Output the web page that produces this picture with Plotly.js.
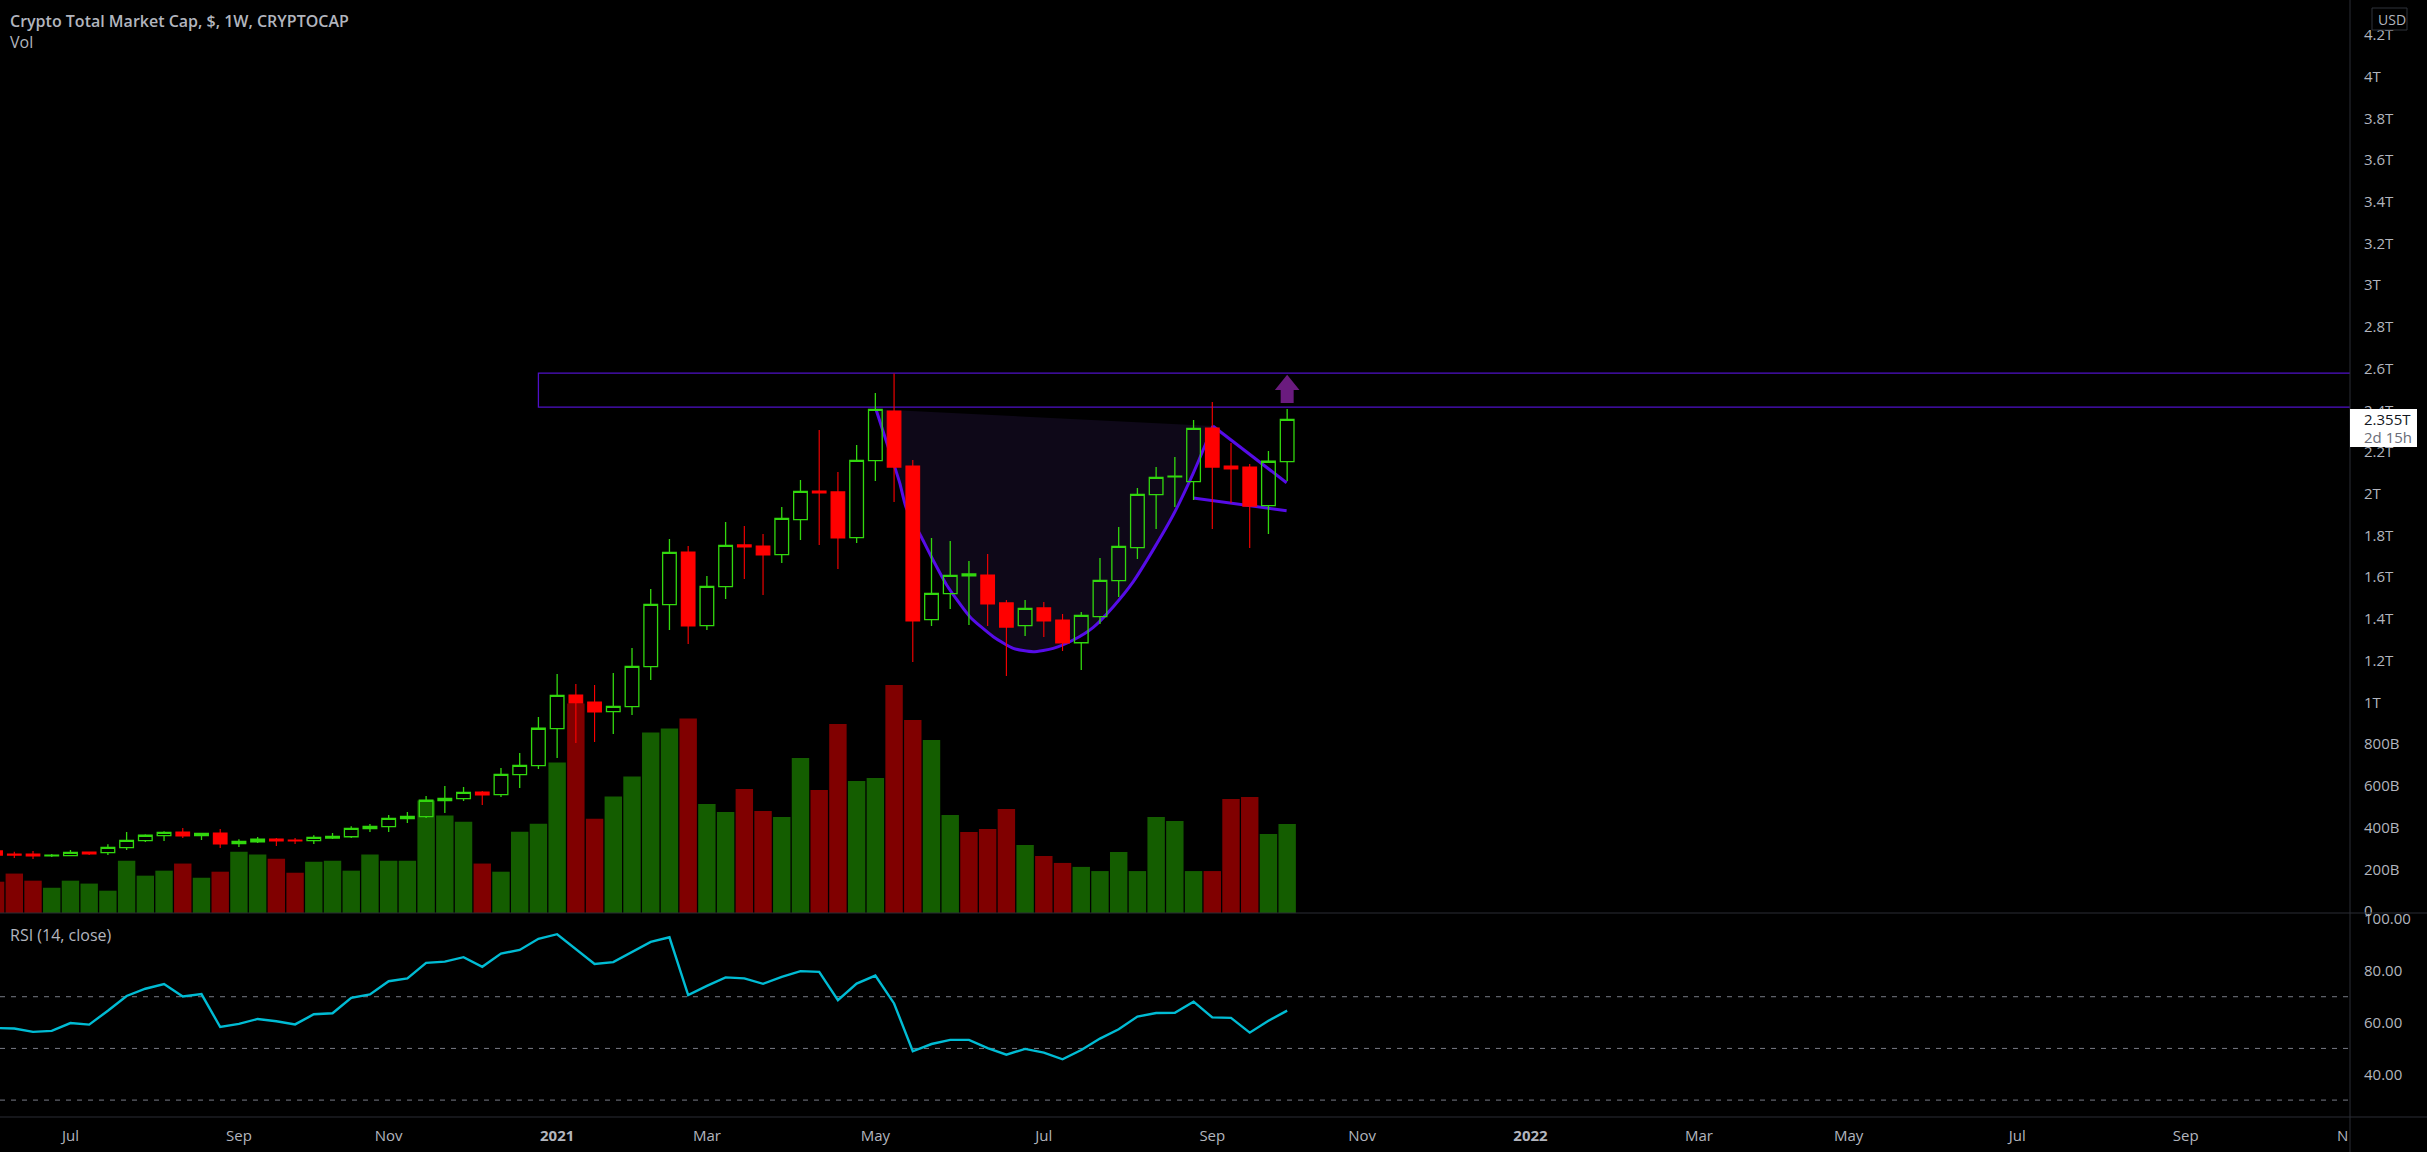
<!DOCTYPE html>
<html>
<head>
<meta charset="utf-8">
<script src="https://cdn.plot.ly/plotly-3.0.1.min.js"></script>
<style>html,body{margin:0;padding:0;background:#000;overflow:hidden}#chart{width:2427px;height:1152px}</style>
</head>
<body>
<div id="chart"></div>
<script>
// Week numbers count from the Monday 2020-06-15; the first bar is week -1.
const FIRST_MONDAY = Date.UTC(2020, 5, 15);
const firstWeek = -1;

// Prices in trillions of USD
const open = [.288,.273,.273,.264,.265,.283,.280,.304,.337,.361,.379,.361,.374,.323,.332,.345,.340,.337,.350,.356,.395,.404,.443,.452,.529,.539,.570,.558,.654,.697,.874,1.035,1.002,.956,.980,1.171,1.469,1.721,1.368,1.555,1.755,1.750,1.708,1.876,2.013,2.009,1.790,2.159,2.397,2.133,1.397,1.521,1.606,1.611,1.477,1.368,1.453,1.395,1.286,1.411,1.584,1.742,1.996,2.081,2.058,2.315,2.133,2.128,1.943,2.154];
const high = [.290,.284,.288,.273,.292,.284,.320,.379,.368,.382,.398,.374,.393,.344,.355,.350,.350,.363,.374,.406,.417,.460,.475,.551,.599,.594,.575,.686,.757,.930,1.136,1.088,1.083,1.141,1.261,1.544,1.783,1.750,1.606,1.865,1.846,1.807,1.937,2.066,2.306,2.104,2.234,2.483,2.577,2.162,1.788,1.774,1.678,1.711,1.491,1.491,1.481,1.424,1.433,1.692,1.841,2.028,2.128,2.176,2.354,2.440,2.244,2.143,2.205,2.406];
const low = [.265,.254,.249,.259,.264,.268,.268,.292,.331,.336,.350,.340,.302,.307,.326,.312,.321,.321,.345,.350,.379,.379,.422,.446,.470,.527,.508,.547,.590,.681,.733,.805,.810,.849,.940,1.107,1.347,1.280,1.347,1.496,1.592,1.515,1.668,1.779,1.755,1.639,1.764,2.061,1.961,1.194,1.366,1.448,1.371,1.366,1.127,1.318,1.314,1.246,1.155,1.376,1.505,1.687,1.831,1.937,1.970,1.831,1.956,1.740,1.807,2.061];
const close = [.268,.268,.264,.268,.281,.273,.305,.339,.363,.377,.360,.372,.321,.334,.344,.336,.336,.353,.358,.396,.406,.444,.454,.531,.540,.569,.556,.655,.698,.876,1.034,.997,.954,.981,1.173,1.470,1.719,1.366,1.556,1.753,1.745,1.707,1.882,2.012,2.004,1.788,2.160,2.405,2.128,1.390,1.523,1.609,1.616,1.472,1.361,1.451,1.390,1.285,1.417,1.585,1.748,1.997,2.079,2.084,2.314,2.128,2.119,1.941,2.156,2.357];

// Volume in billions, and whether each volume bar is drawn green (1) or red (0)
const volume = [150,189,155,121,155,141,107,251,179,203,237,169,198,294,280,260,193,246,251,203,280,251,251,539,467,438,237,198,390,428,721,1004,452,558,654,865,884,932,523,484,594,489,460,743,590,906,633,647,1093,925,829,470,388,403,499,326,273,240,221,201,292,201,460,441,201,201,547,556,379,427];
const volumeUp = [0,0,0,1,1,1,1,1,1,1,0,1,0,1,1,0,0,1,1,1,1,1,1,1,1,1,0,1,1,1,1,0,0,1,1,1,1,0,1,1,0,0,1,1,0,0,1,1,0,0,1,1,0,0,0,1,0,0,1,1,1,1,1,1,1,0,0,0,1,1];

// RSI (14, close)
const rsi = [57.9,57.7,56.4,56.8,59.8,59.2,64.6,70.3,73.1,74.9,70.1,71.0,58.3,59.5,61.4,60.5,59.3,63.2,63.6,69.6,70.9,76.0,77.1,83.1,83.6,85.3,81.6,86.7,88.1,92.4,94.2,88.5,82.7,83.4,87.4,91.2,93.0,70.6,74.2,77.5,77.1,75.0,77.7,79.9,79.6,68.7,75.1,78.2,67.4,48.9,51.7,53.3,53.3,50.1,47.6,49.8,48.4,45.8,49.4,53.8,57.4,62.3,63.7,63.8,68.1,62.0,61.8,56.1,60.7,64.6];

// Cup curve and flag drawn on the chart (week number, price in trillions)
const cupWeeks = [46.03,47.03,47.31,47.63,48.45,48.99,49.81,51.05,52.30,53.37,54.43,55.50,56.57,57.64,58.71,59.78,60.84,61.91,62.98,63.66,64.03];
const cupPrice = [2.405,2.130,2.050,1.938,1.794,1.698,1.563,1.411,1.315,1.259,1.243,1.259,1.299,1.360,1.459,1.579,1.731,1.898,2.098,2.242,2.325];
const flagTopWeeks = [64.03,67.97];
const flagTopPrice = [2.325,2.053];
const flagLowWeeks = [62.98,67.97];
const flagLowPrice = [1.980,1.919];
const arrowWeeks = [68,68.657,68.347,68.347,67.653,67.653,67.343,68];
const arrowPrice = [2.570,2.498,2.498,2.435,2.435,2.498,2.498,2.570];
const zoneStartWeek = 28;
const zoneTop = 2.578;
const zoneBottom = 2.415;

// Axis ticks
const priceTicks = [0,.2,.4,.6,.8,1,1.2,1.4,1.6,1.8,2,2.2,2.4,2.6,2.8,3,3.2,3.4,3.6,3.8,4,4.2];
const priceLabels = ['0','200B','400B','600B','800B','1T','1.2T','1.4T','1.6T','1.8T','2T','2.2T','2.4T','2.6T','2.8T','3T','3.2T','3.4T','3.6T','3.8T','4T','4.2T'];
const rsiTicks = [40,60,80,100];
const rsiLabels = ['40.00','60.00','80.00','100.00'];
const rsiLevels = [70,50,30];
const timeTicks = ['2020-07-06','2020-09-07','2020-11-02','2021-01-04','2021-03-01','2021-05-03','2021-07-05','2021-09-06','2021-11-01','2022-01-03','2022-03-07','2022-05-02','2022-07-04','2022-09-05'];
const timeLabels = ['Jul','Sep','Nov','<b>2021</b>','Mar','May','Jul','Sep','Nov','<b>2022</b>','Mar','May','Jul','Sep'];

const W = 2427, H = 1152, AXIS_X = 2350, PANE_BOTTOM = 913, RSI_BOTTOM = 1117;
const FONT = 'Open Sans, sans-serif';
const TEXT = '#b2b5be';
const GREEN = '#32d70e', RED = '#ff0000', VIOLET = '#560ce8';
const px = x => x / W;
const py = y => 1 - y / H;
const iso = w => new Date(FIRST_MONDAY + w * 7 * 864e5).toISOString().slice(0, 19);
const dates = open.map((_, i) => iso(i + firstWeek));

const PRICE_RANGE = [-0.0096, 4.367];
const VOL_RANGE = [0, 4377];
const RSI_RANGE = [23.46, 102.4];

const data = [
  {type:'bar', x:dates, y:volume, xaxis:'x', yaxis:'y', hoverinfo:'skip',
   marker:{color:volumeUp.map(u => u ? '#145d00' : '#800000'), line:{width:0}}},
  {type:'scatter', mode:'lines', x:cupWeeks.map(iso), y:cupPrice, xaxis:'x', yaxis:'y2', hoverinfo:'skip',
   fill:'toself', fillcolor:'#0e0818', line:{color:VIOLET, width:3, shape:'spline', smoothing:0.6}},
  {type:'scatter', mode:'lines', x:flagTopWeeks.map(iso), y:flagTopPrice, xaxis:'x', yaxis:'y2', hoverinfo:'skip',
   line:{color:VIOLET, width:3}},
  {type:'scatter', mode:'lines', x:flagLowWeeks.map(iso), y:flagLowPrice, xaxis:'x', yaxis:'y2', hoverinfo:'skip',
   line:{color:VIOLET, width:3}},
  {type:'scatter', mode:'lines', x:arrowWeeks.map(iso), y:arrowPrice, xaxis:'x', yaxis:'y2', hoverinfo:'skip',
   fill:'toself', fillcolor:'#6a1b7e', line:{color:'#6a1b7e', width:0}},
  {type:'candlestick', x:dates, open, high, low, close, xaxis:'x', yaxis:'y3', hoverinfo:'skip', whiskerwidth:0,
   increasing:{line:{color:GREEN, width:1.3}, fillcolor:'rgba(0,0,0,0)'},
   decreasing:{line:{color:RED, width:1.1}, fillcolor:RED}},
  {type:'scatter', mode:'lines', x:dates, y:rsi, xaxis:'x', yaxis:'y4', hoverinfo:'skip',
   line:{color:'#00bcd4', width:2.4}}
];

const hline = y => ({type:'line', layer:'above', xref:'paper', yref:'paper', x0:0, x1:1, y0:py(y), y1:py(y), line:{color:'#2a2d35', width:1}});
const shapes = [
  {type:'rect', layer:'below', xref:'x', yref:'y2', x0:iso(zoneStartWeek), x1:iso(125), y0:zoneBottom, y1:zoneTop, line:{color:'#4f10c8', width:1.3}, fillcolor:'rgba(0,0,0,0)'},
  ...rsiLevels.map(v => ({type:'line', layer:'below', xref:'paper', yref:'y4', x0:0, x1:px(AXIS_X - 2), y0:v, y1:v, line:{color:'#787b86', width:1, dash:'5px,6px'}})),
  hline(PANE_BOTTOM), hline(RSI_BOTTOM),
  {type:'line', layer:'above', xref:'paper', yref:'paper', x0:px(AXIS_X), x1:px(AXIS_X), y0:0, y1:1, line:{color:'#2a2d35', width:1}},
  {type:'rect', layer:'above', xref:'paper', yref:'paper', x0:px(AXIS_X), x1:px(2417), y0:py(447), y1:py(409), fillcolor:'#ffffff', line:{width:0}},
  {type:'rect', layer:'above', xref:'paper', yref:'paper', x0:px(2372), x1:px(2407), y0:py(30), y1:py(8), fillcolor:'#000000', line:{color:'#2f323b', width:1}}
];

const note = (text, x, y, size, extra) => Object.assign({
  text, xref:'paper', yref:'paper', x:px(x), y:py(y), xanchor:'left', yanchor:'middle', showarrow:false,
  font:{family:FONT, size, color:TEXT}
}, extra || {});
const annotations = [
  note('Crypto Total Market Cap, $, 1W, CRYPTOCAP', 8, 21, 16, {font:{family:FONT, size:16, color:TEXT, weight:600}}),
  note('Vol', 8, 42, 16),
  note('RSI (14, close)', 8, 935, 16),
  note('USD', 2376, 19, 14),
  note('2.355T', 2362, 419, 15, {font:{family:FONT, size:15, color:'#131722'}}),
  note('2d 15h', 2362, 437, 15, {font:{family:FONT, size:15, color:'#6a6d78'}}),
  note('N', AXIS_X, 1135, 15, {xanchor:'right'})
];

const layout = {
  width:W, height:H, margin:{l:0, r:0, t:0, b:0},
  paper_bgcolor:'#000', plot_bgcolor:'#000', showlegend:false, dragmode:false, hovermode:false,
  bargap:0.07, boxgap:0.27, boxgroupgap:0, shapes, annotations, font:{family:FONT, color:TEXT, size:15},
  xaxis:{type:'date', domain:[0, px(AXIS_X)], range:[iso(-0.764), iso(124.78)], anchor:'y4', rangeslider:{visible:false},
         showgrid:false, zeroline:false, showline:false, ticks:'', tickmode:'array', tickvals:timeTicks, ticktext:timeLabels,
         tickangle:0, ticklabelstandoff:8, tickfont:{family:FONT, size:15, color:TEXT}},
  yaxis:{domain:[py(PANE_BOTTOM), 1], range:VOL_RANGE, visible:false, anchor:'x', fixedrange:true},
  yaxis2:{domain:[py(PANE_BOTTOM), 1], range:PRICE_RANGE, visible:false, overlaying:'y', anchor:'x', fixedrange:true},
  yaxis3:{domain:[py(PANE_BOTTOM), 1], range:PRICE_RANGE, overlaying:'y', side:'right', anchor:'x',
          showgrid:false, zeroline:false, showline:false, ticks:'', tickmode:'array', tickvals:priceTicks, ticktext:priceLabels,
          ticklabelstandoff:13, tickfont:{family:FONT, size:15, color:TEXT}},
  yaxis4:{domain:[py(RSI_BOTTOM), py(PANE_BOTTOM)], range:RSI_RANGE, side:'right', anchor:'x',
          showgrid:false, zeroline:false, showline:false, ticks:'', tickmode:'array', tickvals:rsiTicks, ticktext:rsiLabels,
          ticklabelstandoff:13, tickfont:{family:FONT, size:15, color:TEXT}}
};

Plotly.newPlot('chart', data, layout, {displayModeBar:false, staticPlot:true});
</script>
</body>
</html>
